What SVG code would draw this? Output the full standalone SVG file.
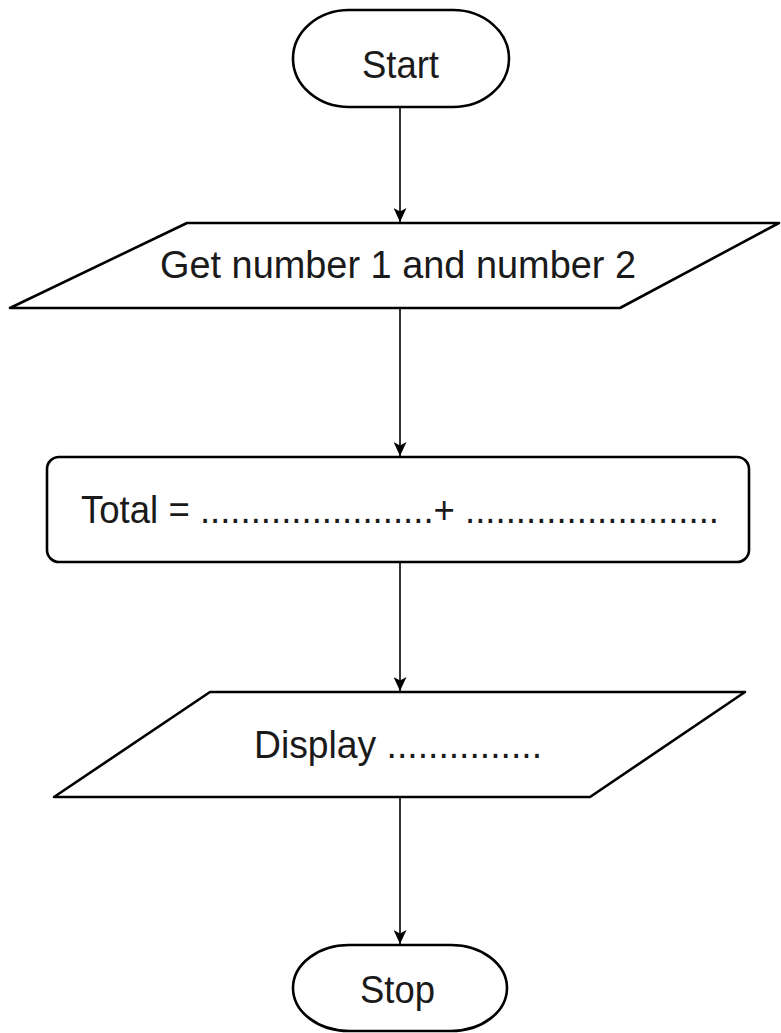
<svg xmlns="http://www.w3.org/2000/svg" width="781" height="1033" viewBox="0 0 781 1033">
<defs>
<style>
.shape{fill:#fff;stroke:#000;stroke-width:2.6;stroke-linejoin:round}
.lbl{font-family:"Liberation Sans",Arial,sans-serif;font-size:38px;fill:#1a1a1a}
.conn{stroke:#000;stroke-width:1.6;fill:none}
</style>
<marker id="arr" viewBox="0 0 14 13" markerWidth="14" markerHeight="13" refX="14" refY="6.5" orient="auto" markerUnits="userSpaceOnUse">
<path d="M0,0 L14,6.5 L0,13 L3.5,6.5 z" fill="#000"/>
</marker>
</defs>
<rect width="781" height="1033" fill="#fff"/>
<g id="connectors">
<line class="conn" x1="400" y1="107" x2="400" y2="222" marker-end="url(#arr)"/>
<line class="conn" x1="400" y1="308" x2="400" y2="456" marker-end="url(#arr)"/>
<line class="conn" x1="400" y1="562" x2="400" y2="691" marker-end="url(#arr)"/>
<line class="conn" x1="400" y1="797" x2="400" y2="944" marker-end="url(#arr)"/>
</g>
<g id="start">
<rect class="shape" x="293" y="10" width="216" height="97" rx="56" ry="48.5"/>
<text class="lbl" x="362" y="78" textLength="77" lengthAdjust="spacingAndGlyphs">Start</text>
</g>
<g id="input">
<polygon class="shape" points="187,223 779,223 620,308 10,308"/>
<text class="lbl" x="160" y="278" textLength="476" lengthAdjust="spacingAndGlyphs">Get number 1 and number 2</text>
</g>
<g id="process">
<rect class="shape" x="47" y="457" width="702" height="105" rx="12" ry="12"/>
<text class="lbl" x="81" y="523" textLength="638" lengthAdjust="spacingAndGlyphs">Total = .......................+ .........................</text>
</g>
<g id="output">
<polygon class="shape" points="210,692 745,692 590,797 54,797"/>
<text class="lbl" x="254" y="758" textLength="288" lengthAdjust="spacingAndGlyphs">Display ...............</text>
</g>
<g id="stop">
<rect class="shape" x="293" y="945" width="214" height="86" rx="56" ry="43"/>
<text class="lbl" x="360" y="1003" textLength="75" lengthAdjust="spacingAndGlyphs">Stop</text>
</g>
</svg>
